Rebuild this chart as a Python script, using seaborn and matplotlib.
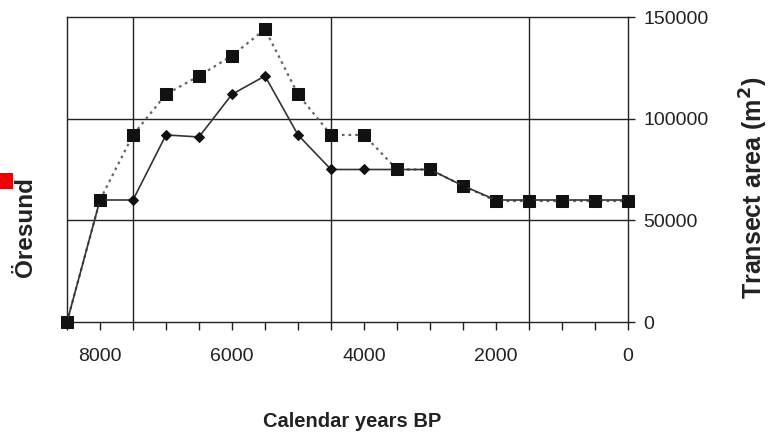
import matplotlib
matplotlib.use("Agg")
import matplotlib.pyplot as plt
import matplotlib.patches as mpatches
from matplotlib.ticker import FixedLocator, MultipleLocator
import seaborn as sns
import pandas as pd

years = [8500, 8000, 7500, 7000, 6500, 6000, 5500, 5000, 4500,
         4000, 3500, 3000, 2500, 2000, 1500, 1000, 500, 0]
area_diamond = [0, 60000, 60000, 92000, 91000, 112000, 121000, 92000, 75000,
                75000, 75000, 75000, 67000, 60000, 60000, 60000, 60000, 60000]
area_square = [0, 60000, 92000, 112000, 121000, 131000, 144000, 112000, 92000,
               92000, 75000, 75000, 67000, 59500, 59500, 59500, 59500, 59500]
x_labels = [8000, 6000, 4000, 2000, 0]
y_ticks = [0, 50000, 100000, 150000]

sns.set_style("white")
plt.rcParams['font.family'] = ['Liberation Sans', 'DejaVu Sans']

df = pd.DataFrame({"year": years, "diamond": area_diamond, "square": area_square})

fig = plt.figure(figsize=(7.78, 4.36), dpi=100)
ax = fig.add_axes([67/778, 1-322/436, (628-67)/778, (322-17)/436])

sns.lineplot(data=df, x="year", y="square", ax=ax, color="#666666", linestyle=(0, (1.2, 1.8)),
             linewidth=1.6, marker="s", markersize=8, markerfacecolor="#111111",
             markeredgecolor="#111111", sort=False, zorder=3, clip_on=False)
sns.lineplot(data=df, x="year", y="diamond", ax=ax, color="#333333", linestyle="-",
             linewidth=1.2, marker="D", markersize=5.5, markerfacecolor="#111111",
             markeredgecolor="#111111", sort=False, zorder=4, clip_on=False)

ax.set_xlim(8500, 0)
ax.set_ylim(0, 150000)

# grid lines
for gx in [7500, 4500, 1500]:
    ax.axvline(gx, color="#222222", linewidth=1.0, zorder=1)
for gy in [50000, 100000]:
    ax.axhline(gy, color="#222222", linewidth=1.0, zorder=1)

for s in ax.spines.values():
    s.set_visible(True)
    s.set_color("#222222")
    s.set_linewidth(1.0)

ax.xaxis.set_major_locator(FixedLocator(x_labels))
ax.xaxis.set_minor_locator(MultipleLocator(500))
ax.set_xticklabels([str(v) for v in x_labels])
ax.tick_params(axis="x", which="both", direction="out", length=6, width=1.0,
               color="#222222", bottom=True, pad=13, labelsize=14, labelcolor="#222222")

ax.yaxis.tick_right()
ax.yaxis.set_label_position("right")
ax.set_yticks(y_ticks)
ax.set_yticklabels([str(v) for v in y_ticks])
ax.tick_params(axis="y", which="both", direction="out", length=5, width=1.0,
               color="#222222", right=True, left=False, pad=6, labelsize=14,
               labelcolor="#222222")

ax.set_xlabel("Calendar years BP", fontsize=14.5, fontweight="bold", color="#222222",
              va="center")
ax.xaxis.set_label_coords((352-67)/(628-67), -(421-322)/305)
ax.set_ylabel("Transect area (m$^\\mathbf{2}$)", fontsize=18, fontweight="bold",
              color="#222222", rotation=90, va="center")
ax.yaxis.set_label_coords((754-67)/(628-67), (322-188)/305)

fig.text(26/778, 1-227/436, "Öresund", rotation=90, fontsize=17.5, fontweight="bold",
         color="#222222", ha="center", va="center")
fig.patches.append(mpatches.Rectangle((0, 1-189/436), 13/778, 16/436,
                                      transform=fig.transFigure, facecolor="#ee0000",
                                      edgecolor="none"))

fig.savefig("out.png", dpi=100)
